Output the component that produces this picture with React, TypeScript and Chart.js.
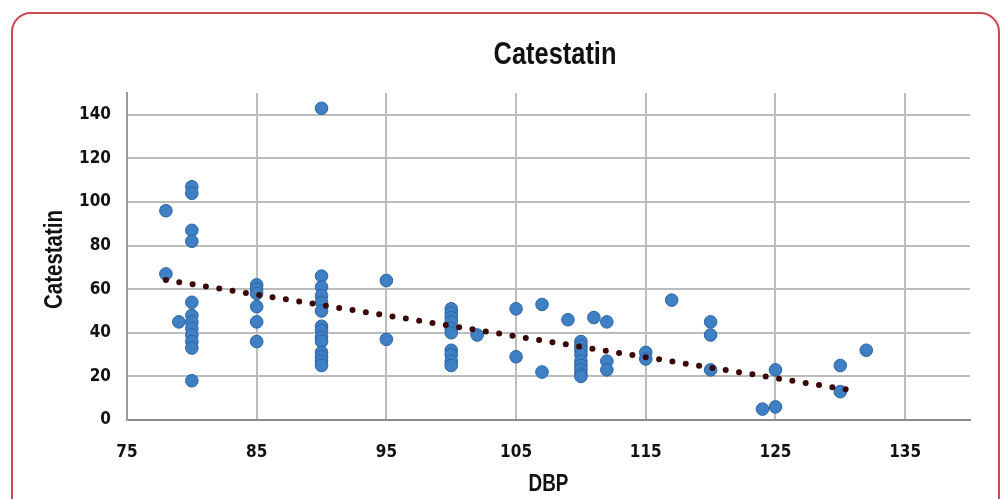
import React, { useEffect, useRef } from "react";
import { Chart, registerables } from "chart.js";

Chart.register(...registerables);

// DBP (x) and Catestatin (y) pairs
const dbp = [
  78, 78,
  79,
  80, 80, 80, 80, 80, 80, 80, 80, 80, 80, 80, 80,
  85, 85, 85, 85, 85, 85,
  90, 90, 90, 90, 90, 90, 90, 90, 90, 90, 90, 90, 90, 90,
  95, 95,
  100, 100, 100, 100, 100, 100, 100, 100, 100, 100,
  102,
  105, 105,
  107, 107,
  109,
  110, 110, 110, 110, 110, 110, 110, 110, 110,
  111,
  112, 112, 112,
  115, 115,
  117,
  120, 120, 120,
  124,
  125, 125,
  130, 130,
  132,
];
const catestatin = [
  96, 67,
  45,
  107, 104, 87, 82, 54, 48, 45, 42, 39, 36, 33, 18,
  62, 60, 58, 52, 45, 36,
  143, 66, 61, 57, 54, 50, 43, 41, 38, 36, 31, 29, 27, 25,
  64, 37,
  51, 49, 47, 45, 42, 40, 32, 30, 27, 25,
  39,
  51, 29,
  53, 22,
  46,
  36, 34, 32, 30, 27, 25, 23, 21, 20,
  47,
  45, 27, 23,
  31, 28,
  55,
  45, 39, 23,
  5,
  23, 6,
  25, 13,
  32,
];

// Linear trendline end points
const trendX = [78, 131];
const trendY = [64.2, 13.5];

const xTicks = [75, 85, 95, 105, 115, 125, 135];
const yTicks = [0, 20, 40, 60, 80, 100, 120, 140];

const chartTitle = "Catestatin";
const xTitle = "DBP";
const yTitle = "Catestatin";

const TICK_FONT = "'DejaVu Sans Condensed', 'Liberation Sans', sans-serif";
const TITLE_FONT = "'Liberation Sans', Arial, sans-serif";
const NARROW = 0.82;

function narrowText(
  ctx: CanvasRenderingContext2D,
  text: string,
  x: number,
  y: number,
  size: number,
  rotate = 0
) {
  ctx.save();
  ctx.translate(x, y);
  if (rotate) ctx.rotate(rotate);
  ctx.scale(NARROW, 1);
  ctx.font = `bold ${size}px ${TITLE_FONT}`;
  ctx.fillStyle = "#111111";
  ctx.textAlign = "center";
  ctx.textBaseline = "middle";
  ctx.fillText(text, 0, 0);
  ctx.restore();
}

export default function App() {
  const ref = useRef<HTMLCanvasElement | null>(null);

  useEffect(() => {
    if (!ref.current) return;
    const titlePlugin = {
      id: "narrowTitles",
      afterDraw(chart: any) {
        const ctx = chart.ctx;
        const area = chart.chartArea;
        narrowText(ctx, chartTitle, 555, 55, 31);
        narrowText(ctx, xTitle, (area.left + area.right) / 2, 485, 23);
        narrowText(ctx, yTitle, 55, (area.top + area.bottom) / 2 + 3, 25, -Math.PI / 2);
      },
    };
    const chart = new Chart(ref.current, {
      type: "scatter",
      data: {
        datasets: [
          {
            type: "line",
            label: "Trend",
            data: trendX.map((x, i) => ({ x, y: trendY[i] })),
            borderColor: "#3a0606",
            borderWidth: 6,
            borderDash: [0, 13.5],
            borderCapStyle: "round",
            pointRadius: 0,
            fill: false,
            order: 1,
          } as any,
          {
            label: "Catestatin",
            data: dbp.map((x, i) => ({ x, y: catestatin[i] })),
            backgroundColor: "#3f80c4",
            borderColor: "#2a64a4",
            borderWidth: 1,
            pointRadius: 6.3,
            order: 2,
          },
        ],
      },
      options: {
        responsive: false,
        animation: false,
        layout: { padding: { top: 93, right: 32, left: 0, bottom: 0 } },
        plugins: {
          legend: { display: false },
          tooltip: { enabled: false },
          title: { display: false },
        },
        scales: {
          x: {
            type: "linear",
            min: 75,
            max: 140,
            afterBuildTicks: (s: any) => {
              s.ticks = xTicks.map((v) => ({ value: v }));
            },
            afterFit: (s: any) => {
              s.height = 79;
            },
            grid: { color: "#bcbcbc", lineWidth: 2, drawTicks: false },
            border: { color: "#8a8a8a", width: 2 },
            ticks: {
              padding: 22,
              color: "#111111",
              font: { family: TICK_FONT, size: 17, weight: "bold" },
              maxRotation: 0,
            },
          },
          y: {
            type: "linear",
            min: 0,
            max: 150,
            afterBuildTicks: (s: any) => {
              s.ticks = yTicks.map((v) => ({ value: v }));
            },
            afterFit: (s: any) => {
              s.width = 127;
            },
            grid: { color: "#bcbcbc", lineWidth: 2, drawTicks: false },
            border: { color: "#9a9a9a", width: 2 },
            ticks: {
              padding: 16,
              color: "#111111",
              font: { family: TICK_FONT, size: 17, weight: "bold" },
            },
          },
        },
      } as any,
      plugins: [titlePlugin],
    });
    return () => chart.destroy();
  }, []);

  return (
    <div
      style={{
        position: "fixed",
        left: 0,
        top: 0,
        width: 1002,
        height: 499,
        overflow: "hidden",
        background: "#ffffff",
      }}
    >
      <div
        style={{
          position: "absolute",
          left: 11,
          top: 12,
          width: 989,
          height: 530,
          border: "2px solid #c94a52",
          borderRadius: 20,
          boxSizing: "border-box",
        }}
      />
      <canvas
        ref={ref}
        width={1002}
        height={499}
        style={{ position: "absolute", left: 0, top: 0, width: 1002, height: 499 }}
      />
    </div>
  );
}
